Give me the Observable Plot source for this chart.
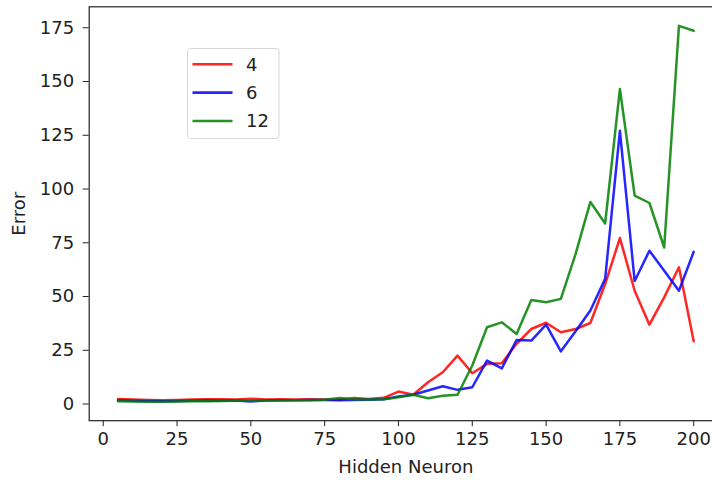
<!DOCTYPE html>
<html>
<head>
<meta charset="utf-8">
<script src="https://cdn.jsdelivr.net/npm/d3@7"></script>
<script src="https://cdn.jsdelivr.net/npm/@observablehq/plot@0.6"></script>
<style>
  html, body { margin: 0; padding: 0; background: #fff; overflow: hidden; }
  #wrap { position: relative; width: 722px; height: 480px; }
  #legend { position: absolute; left: 186.5px; top: 48px; }
</style>
</head>
<body>
<div id="wrap"><div id="chart"></div><div id="legend"></div></div>
<script>
const hiddenNeurons = [5,10,15,20,25,30,35,40,45,50,55,60,65,70,75,80,85,90,95,100,
  105,110,115,120,125,130,135,140,145,150,155,160,165,170,175,180,185,190,195,200];
const error4 = [2.3,2.1,1.9,1.8,1.9,2.1,2.2,2.2,2.1,2.5,2.1,2.2,2.1,2.2,2.1,2.0,2.8,2.4,2.9,
  5.8,4.3,10.1,14.8,22.5,14.3,18.7,19,28,34.9,37.8,33.4,34.9,37.7,55.8,77.2,52.7,36.9,49.6,63.6,29.2];
const error6 = [1.6,1.5,1.4,1.3,1.4,1.5,1.6,1.5,1.6,1.2,1.7,1.8,1.8,1.9,1.9,1.8,1.9,2.0,2.2,
  3.5,4.3,6.3,8.3,6.6,7.8,20.2,16.6,29.8,29.5,36.9,24.5,33.8,43.5,58.2,127.1,57.2,71.3,62,52.7,70.8];
const error12 = [1.3,1.2,1.1,1.1,1.2,1.3,1.3,1.4,1.5,1.5,1.6,1.7,1.8,1.8,2.0,2.8,2.2,2.1,2.2,
  3.2,4.3,2.7,3.9,4.3,17.9,35.7,38,32.6,48.4,47.3,48.9,69.8,94,84,146.5,96.9,93.5,72.8,175.9,173.6];
const seriesNames = ["4", "6", "12"];
const seriesColors = ["#ff0000", "#0000ff", "#008000"];
const xTicks = [0,25,50,75,100,125,150,175,200];
const yTicks = [0,25,50,75,100,125,150,175];

const seriesValues = [error4, error6, error12];
const data = [];
seriesNames.forEach((name, i) => {
  hiddenNeurons.forEach((x, j) => data.push({series: name, x, y: seriesValues[i][j]}));
});

const chart = Plot.plot({
  width: 722, height: 480,
  marginLeft: 88.7, marginRight: 0, marginTop: 6.3, marginBottom: 59.8,
  style: {fontFamily: "DejaVu Sans", fontSize: "18px", color: "#222", background: "white", overflow: "visible"},
  x: {domain: [-4.75, 209.75]},
  y: {domain: [-7.75, 184.75]},
  color: {domain: seriesNames, range: seriesColors},
  marks: [
    Plot.line(data, {x: "x", y: "y", z: "series", stroke: "series", strokeWidth: 2.5, strokeOpacity: 0.85}),
    Plot.frame({stroke: "#222", strokeWidth: 1.2}),
    Plot.axisX({ticks: xTicks, tickSize: 6, tickPadding: 6, fontSize: 18,
      label: "Hidden Neuron", labelAnchor: "center", labelOffset: 52, labelArrow: false}),
    Plot.axisY({ticks: yTicks, tickSize: 6, tickPadding: 9, fontSize: 18,
      label: "Error", labelAnchor: "center", labelOffset: 77, labelArrow: false})
  ]
});
document.getElementById("chart").appendChild(chart);

// legend
const lg = d3.select("#legend").append("svg").attr("width", 93).attr("height", 92)
  .style("font-family", "DejaVu Sans").style("font-size", "18px");
lg.append("rect").attr("x", 0.5).attr("y", 0.5).attr("width", 91.5).attr("height", 90)
  .attr("rx", 3).attr("fill", "rgba(255,255,255,0.85)").attr("stroke", "#d6d6d6");
seriesNames.forEach((name, i) => {
  const cy = 16.3 + i * 28.35;
  lg.append("line").attr("x1", 5.5).attr("x2", 45.5).attr("y1", cy).attr("y2", cy)
    .attr("stroke", seriesColors[i]).attr("stroke-width", 2.6).attr("stroke-opacity", 0.85);
  lg.append("text").attr("x", 59).attr("y", cy).attr("dy", "0.36em").attr("fill", "#222").text(name);
});
</script>
</body>
</html>
